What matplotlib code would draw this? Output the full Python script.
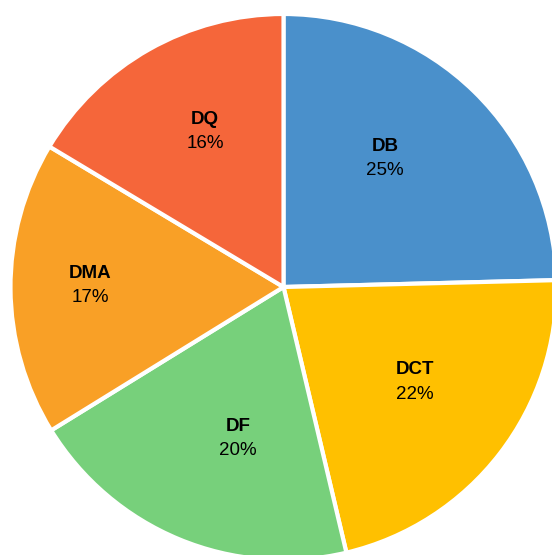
import matplotlib
matplotlib.use("Agg")
import matplotlib.pyplot as plt
import numpy as np

categories = ["DB", "DCT", "DF", "DMA", "DQ"]
values = [24.6, 21.7, 19.9, 17.4, 16.4]
pct_labels = ["25%", "22%", "20%", "17%", "16%"]
colors = ["#4A90CB", "#FFC000", "#77D07B", "#F9A026", "#F5663A"]

# label anchor positions (fractions of radius) - layout only
label_xy = [(0.372, 0.471), (0.482, -0.348), (-0.167, -0.555),
            (-0.709, 0.004), (-0.288, 0.568)]

plt.rcParams['font.family'] = ['Liberation Sans', 'DejaVu Sans']

W, H = 552, 555
fig = plt.figure(figsize=(W / 100, H / 100), dpi=100)
ax = fig.add_axes([0, 0, 1, 1])

cx, cy, R = 283.5, 287.0, 273.0
ax.pie(values, colors=colors, startangle=90, counterclock=False,
       radius=1.0, wedgeprops=dict(edgecolor="white", linewidth=3))

for cat, p, (x, y) in zip(categories, pct_labels, label_xy):
    ax.text(x, y + 0.044, cat, ha="center", va="center", fontsize=13.5,
            fontweight="bold", color="black")
    ax.text(x, y - 0.044, p, ha="center", va="center", fontsize=13.5,
            color="black")

ax.set_xlim(-cx / R, (W - cx) / R)
ax.set_ylim(-(H - cy) / R, cy / R)
ax.set_aspect("auto")
ax.axis("off")
fig.savefig("out.png", dpi=100)
